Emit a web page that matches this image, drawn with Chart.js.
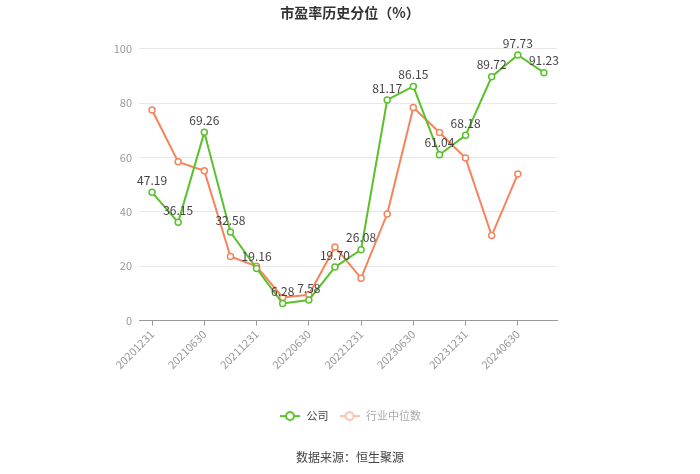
<!DOCTYPE html>
<html>
<head>
<meta charset="utf-8">
<script src="https://cdn.jsdelivr.net/npm/chart.js@4/dist/chart.umd.min.js"></script>
<style>
  html, body { margin: 0; padding: 0; background: #fff; }
  #wrap { width: 700px; height: 474px; }
</style>
</head>
<body>
<div id="wrap"><canvas id="c" width="700" height="474"></canvas></div>
<script>
const categories = ['20201231','20210331','20210630','20210930','20211231','20220331','20220630','20220930','20221231','20230331','20230630','20230930','20231231','20240331','20240630','20240930'];
const companyValues = [47.19, 36.15, 69.26, 32.58, 19.16, 6.28, 7.58, 19.70, 26.08, 81.17, 86.15, 61.04, 68.18, 89.72, 97.73, 91.23];
const industryValues = [77.5, 58.4, 55.1, 23.6, 20.0, 8.5, 9.5, 27.1, 15.6, 39.2, 78.4, 69.2, 59.8, 31.3, 53.9, null];
const yTicks = [0, 20, 40, 60, 80, 100];
const seriesNames = ['公司', '行业中位数'];

const FONT = "'Noto Sans CJK SC', 'Noto Sans', sans-serif";
const GREEN = '#5bc12b';
const ORANGE = '#f5845c';

function legendIcon(color) {
  const cv = document.createElement('canvas');
  cv.width = 20; cv.height = 12;
  const g = cv.getContext('2d');
  g.strokeStyle = color; g.lineWidth = 2;
  g.beginPath(); g.moveTo(0, 6); g.lineTo(20, 6); g.stroke();
  g.fillStyle = '#fff';
  g.beginPath(); g.arc(10, 6, 4, 0, Math.PI * 2); g.fill(); g.stroke();
  return cv;
}

const valueLabels = {
  id: 'valueLabels',
  afterDatasetsDraw(chart) {
    const meta = chart.getDatasetMeta(0);
    const ctx = chart.ctx;
    ctx.save();
    ctx.font = '12px ' + FONT;
    ctx.fillStyle = '#444';
    ctx.textAlign = 'center';
    ctx.textBaseline = 'middle';
    meta.data.forEach((pt, i) => {
      const v = chart.data.datasets[0].data[i];
      if (v == null) return;
      ctx.fillText(v.toFixed(2), pt.x, pt.y - 12);
    });
    ctx.restore();
  }
};

new Chart(document.getElementById('c'), {
  type: 'line',
  data: {
    labels: categories,
    datasets: [
      {
        label: seriesNames[0], data: companyValues,
        borderColor: GREEN, backgroundColor: '#fff', borderWidth: 2,
        pointRadius: 3, pointBorderWidth: 1.5, pointBackgroundColor: '#fff', pointBorderColor: GREEN,
        tension: 0
      },
      {
        label: seriesNames[1], data: industryValues,
        borderColor: ORANGE, backgroundColor: '#fff', borderWidth: 2,
        pointRadius: 3, pointBorderWidth: 1.5, pointBackgroundColor: '#fff', pointBorderColor: ORANGE,
        tension: 0, spanGaps: false
      }
    ]
  },
  options: {
    responsive: false,
    animation: false,
    layout: { padding: 0 },
    plugins: {
      title: {
        display: true, text: '市盈率历史分位（%）', color: '#333',
        font: { family: FONT, size: 14, weight: 'bold' },
        padding: { top: 4, bottom: 28 }
      },
      subtitle: {
        display: true, position: 'bottom', text: '数据来源：恒生聚源', color: '#444',
        font: { family: FONT, size: 12 },
        padding: { top: 19, bottom: 9 }
      },
      legend: {
        position: 'bottom',
        labels: {
          usePointStyle: true,
          pointStyleWidth: 22,
          font: { family: FONT, size: 11 },
          padding: 10,
          generateLabels(chart) {
            return chart.data.datasets.map((ds, i) => ({
              text: ds.label,
              fontColor: i === 0 ? '#444' : '#aaa',
              pointStyle: legendIcon(i === 0 ? GREEN : '#f9c2ad'),
              datasetIndex: i,
              hidden: false,
              lineWidth: 0
            }));
          }
        }
      },
      tooltip: { enabled: false }
    },
    scales: {
      x: {
        offset: true,
        grid: {
          drawOnChartArea: false, tickLength: 5,
          color: (c) => (c.index % 2 === 0 ? '#999' : 'rgba(0,0,0,0)')
        },
        border: { color: '#999' },
        ticks: {
          autoSkip: false, minRotation: 45, maxRotation: 45, color: '#999',
          font: { family: FONT, size: 11 }, padding: 2,
          callback(v, i) { return i % 2 === 0 ? categories[i] : ''; }
        },
        afterFit(scale) { scale.height = 80; }
      },
      y: {
        min: 0, max: 100,
        afterBuildTicks(scale) { scale.ticks = yTicks.map(v => ({ value: v })); },
        grid: { color: '#e8e8e8', drawTicks: false },
        border: { display: false },
        ticks: { color: '#999', font: { family: FONT, size: 11 }, padding: 7 },
        afterFit(scale) { scale.width = 139; }
      },
      yRight: {
        position: 'right',
        min: 0, max: 100,
        grid: { display: false, drawTicks: false },
        border: { display: false },
        ticks: { display: false },
        afterFit(scale) { scale.width = 143; }
      }
    }
  },
  plugins: [valueLabels]
});
</script>
</body>
</html>
